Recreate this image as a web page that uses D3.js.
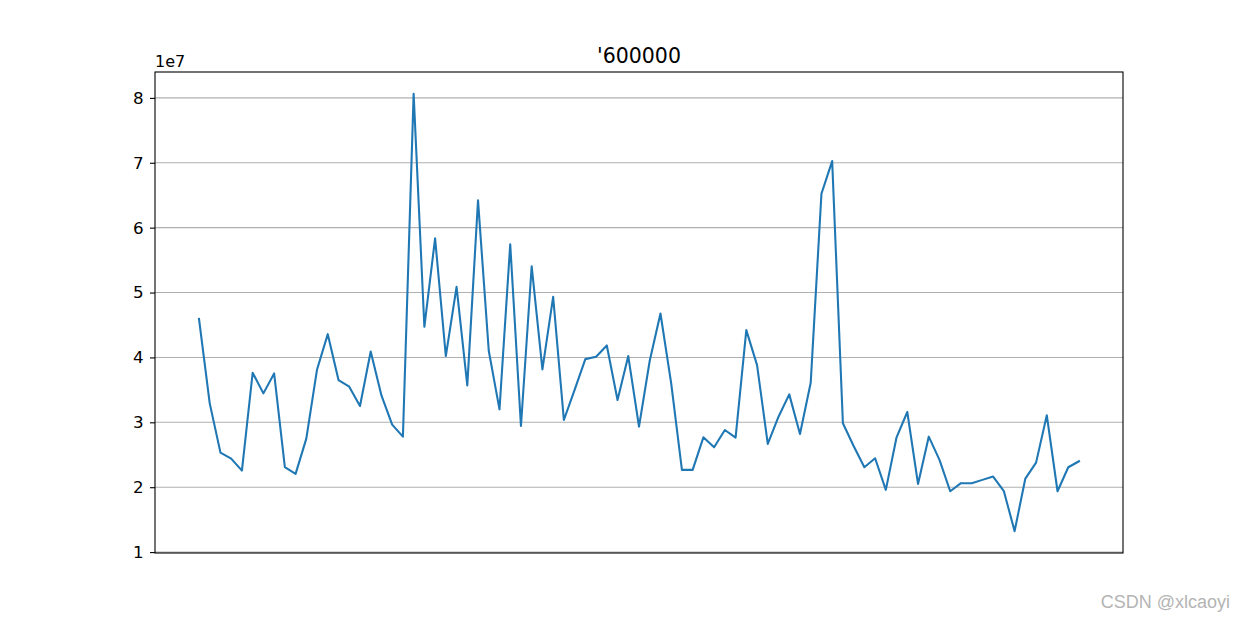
<!DOCTYPE html>
<html>
<head>
<meta charset="utf-8">
<script src="https://cdn.jsdelivr.net/npm/d3@7"></script>
<style>
  body { margin: 0; background: #fff; }
  svg { display: block; font-family: "DejaVu Sans", sans-serif; }
</style>
</head>
<body>
<div id="chart"></div>
<script>
// Titre et valeurs (en unités de 1e7)
const chartTitle = "'600000";
const offsetLabel = "1e7";
const yTicks = [1, 2, 3, 4, 5, 6, 7, 8];
const values = [
  4.595, 3.292, 2.533, 2.441, 2.256, 3.764, 3.446, 3.754, 2.308, 2.205,
  2.749, 3.815, 4.359, 3.651, 3.549, 3.251, 4.092, 3.415, 2.964, 2.779,
  8.062, 4.472, 5.836, 4.021, 5.087, 3.569, 6.421, 4.103, 3.200, 5.744,
  2.944, 5.405, 3.815, 4.933, 3.036, 3.500, 3.974, 4.010, 4.185, 3.344,
  4.021, 2.933, 3.949, 4.677, 3.600, 2.267, 2.267, 2.769, 2.615, 2.882,
  2.764, 4.421, 3.882, 2.667, 3.087, 3.431, 2.821, 3.610, 6.523, 7.026,
  2.985, 2.636, 2.308, 2.446, 1.959, 2.769, 3.159, 2.051, 2.779, 2.421,
  1.938, 2.062, 2.062, 2.113, 2.164, 1.938, 1.323, 2.133, 2.379, 3.108,
  1.938, 2.308, 2.400
];
const watermark = "CSDN @xlcaoyi";

// Dimensions
const W = 1245, H = 621;
const margin = { top: 72, right: 122, bottom: 68, left: 155 };
const innerW = W - margin.left - margin.right;
const innerH = H - margin.top - margin.bottom;

const svg = d3.select("#chart").append("svg")
  .attr("width", W).attr("height", H);

const g = svg.append("g")
  .attr("transform", `translate(${margin.left},${margin.top})`);

// Marges automatiques façon matplotlib (5 %)
const n = values.length;
const xPad = (n - 1) * 0.05;
const [yMin, yMax] = d3.extent(values);
const yPad = (yMax - yMin) * 0.05;

const x = d3.scaleLinear().domain([-xPad, n - 1 + xPad]).range([0, innerW]);
const y = d3.scaleLinear().domain([yMin - yPad, yMax + yPad]).range([innerH, 0]);

// Grille horizontale
g.selectAll(".grid")
  .data(yTicks)
  .enter().append("line")
  .attr("x1", 0).attr("x2", innerW)
  .attr("y1", d => y(d)).attr("y2", d => y(d))
  .style("stroke", "#b0b0b0").style("stroke-width", 1.1);

// Axe Y
const yAxis = g.append("g")
  .call(d3.axisLeft(y).tickValues(yTicks).tickSize(5).tickPadding(6.5).tickFormat(d3.format("d")));
yAxis.select(".domain").remove();
yAxis.selectAll("line").style("stroke", "#000").style("stroke-width", 1.1);
yAxis.selectAll("text").style("font-size", "16.7px").style("fill", "#000")
  .style("font-family", "'DejaVu Sans', sans-serif");

// Courbe
const line = d3.line()
  .x((d, i) => x(i))
  .y(d => y(d));

g.append("path")
  .datum(values)
  .attr("d", line)
  .style("fill", "none")
  .style("stroke", "#1f77b4")
  .style("stroke-width", 2.08)
  .style("stroke-linejoin", "round")
  .style("stroke-linecap", "square");

// Cadre
g.append("rect")
  .attr("width", innerW).attr("height", innerH)
  .style("fill", "none").style("stroke", "#000").style("stroke-width", 1.1);

// Titre
svg.append("text")
  .attr("x", margin.left + innerW / 2).attr("y", 63.3)
  .attr("text-anchor", "middle")
  .style("font-size", "20.5px").style("fill", "#000")
  .text(chartTitle);

// Texte d'exposant
svg.append("text")
  .attr("x", margin.left).attr("y", 66.7)
  .style("font-size", "16px").style("fill", "#000")
  .text(offsetLabel);

// Filigrane
svg.append("text")
  .attr("x", 1230).attr("y", 608)
  .attr("text-anchor", "end")
  .style("font-family", "'Liberation Sans', Arial, sans-serif")
  .style("font-size", "18px")
  .style("fill", "#b4b4b4")
  .text(watermark);
</script>
</body>
</html>
